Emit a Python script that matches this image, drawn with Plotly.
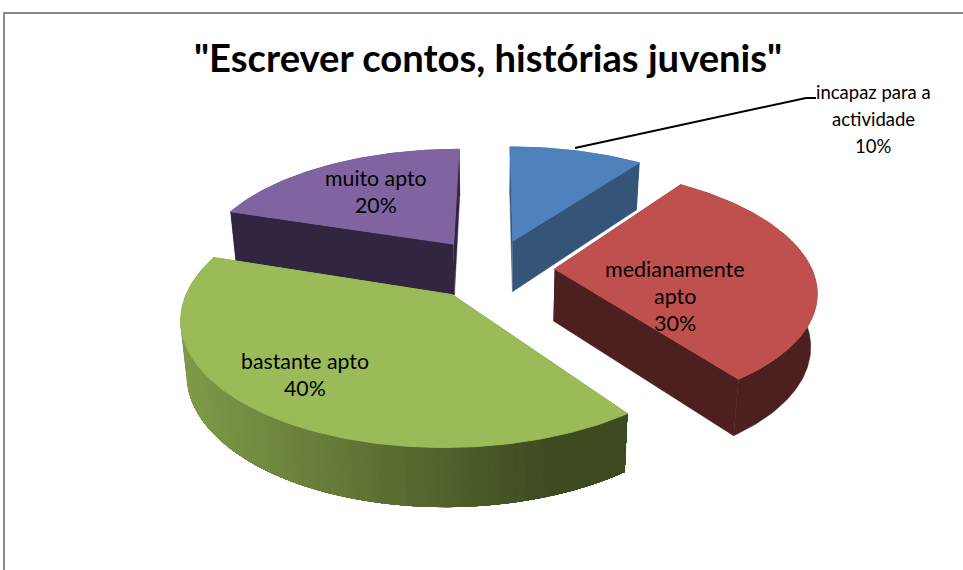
import math
import plotly.graph_objects as go

TITLE = '"Escrever contos, histórias juvenis"'
categories = ["incapaz para a actividade", "medianamente apto", "bastante apto", "muito apto"]
label_lines = [["incapaz para a", "actividade"], ["medianamente", "apto"], ["bastante apto"], ["muito apto"]]
values = [10, 30, 40, 20]
explode = [0.26, 0.24, 0.26, 0.27]
top_colors = ["#4f81bd", "#c0504d", "#9bbb59", "#8064a2"]
wall_light = ["#345478", "#4d1f1e", "#7f9b49", "#312540"]
wall_dark = ["#345478", "#4d1f1e", "#3e4a20", "#312540"]
label_pos = [(873, 92), (675, 269), (305, 361), (376, 178)]
label_size = [18.5, 21.5, 21.3, 21.3]
draw_order = [3, 0, 1, 2]

CX, CY = 493, 269
R, A, K, K_DEPTH, DEPTH = 257, 118, 0.165, 0.1, 52
LINE_GAP = 27
GRADIENT_END = 0.82


def project(X, Y, low=False):
    w = 1 + K * Y
    sx = R * X / w
    sy = A * Y / w
    if low:
        return CX + sx * 0.98, CY - sy + DEPTH / (1 + K_DEPTH * Y)
    return CX + sx, CY - sy


def rgb(c):
    return [int(c[i:i + 2], 16) for i in (1, 3, 5)]


def mix(c1, c2, t):
    a, b = rgb(c1), rgb(c2)
    return "rgb(%d,%d,%d)" % tuple(round(a[i] + (b[i] - a[i]) * t) for i in range(3))


fig = go.Figure()


def poly(points, color, width=0.5):
    fig.add_trace(go.Scatter(
        x=[p[0] for p in points], y=[p[1] for p in points], mode="lines",
        fill="toself", fillcolor=color, line=dict(color=color, width=width),
        hoverinfo="skip", showlegend=False))


def wall(points, color):
    poly([project(*p) for p in points] + [project(*p, True) for p in reversed(points)], color)


total = sum(values)
starts, acc = [], 0
for v in values:
    starts.append(acc / total * 360)
    acc += v

for i in draw_order:
    a0 = starts[i]
    a1 = a0 + values[i] / total * 360
    mid = math.radians((a0 + a1) / 2)
    ox, oy = explode[i] * math.sin(mid), explode[i] * math.cos(mid)
    n = max(8, int(round(a1 - a0)))
    angs = [math.radians(a0 + (a1 - a0) * j / n) for j in range(n + 1)]
    rim = [(ox + math.sin(t), oy + math.cos(t)) for t in angs]
    # radial walls
    for p in (rim[0], rim[-1]):
        wall([(ox, oy), p], wall_light[i])
    # outer wall: nested polygons, each overpainting the last, so the shading has no seams
    wall(rim, wall_light[i])
    if wall_light[i] != wall_dark[i]:
        xs = [project(*p)[0] for p in rim]
        xmin, xmax = min(xs), max(xs)
        for j in range(xs.index(xmin), 0, -1):
            t = min(1, (xs[j] - xmin) / (xmax - xmin) / GRADIENT_END)
            wall(rim[:j + 1], mix(wall_light[i], wall_dark[i], t))
    # top face
    poly([project(ox, oy)] + [project(*p) for p in rim] + [project(ox, oy)], top_colors[i], 1)

# leader line from the first slice to its label
fig.add_trace(go.Scatter(x=[575, 806, 816], y=[148, 98, 98], mode="lines",
                         line=dict(color="black", width=2), hoverinfo="skip", showlegend=False))

annotations = [dict(x=487.5, y=57, text="<b>%s</b>" % TITLE, showarrow=False,
                    font=dict(family="Lato", size=38.2, color="black"))]
for i, lines in enumerate(label_lines):
    x, y = label_pos[i]
    for k, s in enumerate(lines + ["%d%%" % values[i]]):
        annotations.append(dict(x=x, y=y + k * LINE_GAP, text=s, showarrow=False,
                                font=dict(family="Lato", size=label_size[i], color="black")))

fig.update_layout(
    width=963, height=570, margin=dict(l=0, r=0, t=0, b=0),
    paper_bgcolor="white", plot_bgcolor="white", showlegend=False,
    xaxis=dict(range=[0, 963], visible=False, fixedrange=True),
    yaxis=dict(range=[570, 0], visible=False, fixedrange=True),
    annotations=annotations,
    shapes=[
        dict(type="line", x0=4, x1=963, y0=13, y1=13, line=dict(color="#8a8a8a", width=2)),
        dict(type="line", x0=4, x1=4, y0=12, y1=570, line=dict(color="#8a8a8a", width=2)),
    ],
)
fig.write_html("out.html", config=dict(displayModeBar=False),
               post_script="document.body.style.margin='0';")
